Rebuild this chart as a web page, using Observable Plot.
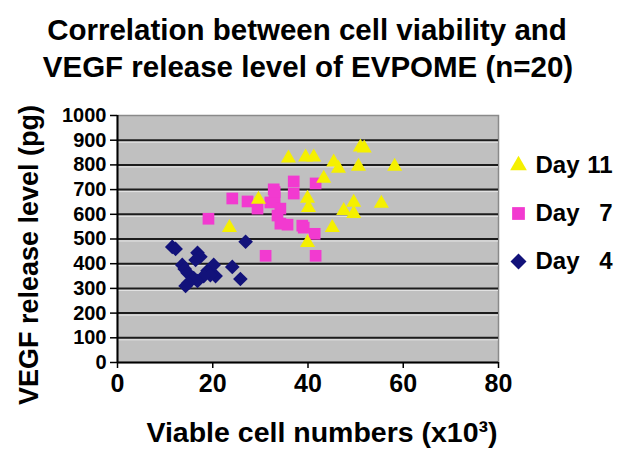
<!DOCTYPE html>
<html>
<head>
<meta charset="utf-8">
<script src="https://cdn.jsdelivr.net/npm/d3@7"></script>
<script src="https://cdn.jsdelivr.net/npm/@observablehq/plot@0.6"></script>
<style>
  html, body { margin: 0; padding: 0; background: #fff; }
  svg { display: block; }
</style>
</head>
<body>
<div id="chart"></div>
<script>
const titleLines = ["Correlation between cell viability and", "VEGF release level of EVPOME (n=20)"];
const xLabel = "Viable cell numbers (x10³)";
const yLabel = "VEGF release level (pg)";
const xTicks = [0, 20, 40, 60, 80];
const yTicks = [0, 100, 200, 300, 400, 500, 600, 700, 800, 900, 1000];

// Day 11 (yellow triangles)
const day11X = [23.5, 29.6, 35.9, 39.5, 41.2, 39.9, 40.1, 39.9, 43.3, 45.1, 45.4, 46.4, 47.5, 49.6, 49.6, 50.6, 51.0, 51.8, 55.4, 58.2];
const day11Y = [546, 660, 827, 831, 831, 664, 627, 485, 745, 546, 811, 786, 615, 648, 603, 794, 872, 868, 644, 794];
// Day 7 (magenta squares)
const day7X = [24.1, 27.3, 29.4, 19.1, 31.1, 32.8, 33.0, 37.0, 37.0, 34.2, 33.6, 34.2, 35.7, 38.8, 41.6, 41.4, 41.6, 39.1, 32.1, 33.0];
const day7Y = [664, 652, 623, 582, 432, 701, 668, 733, 684, 623, 595, 562, 558, 554, 725, 521, 432, 546, 648, 690];
// Day 4 (navy diamonds)
const day4X = [11.5, 12.2, 26.9, 16.8, 17.4, 16.4, 13.6, 14.1, 14.7, 20.2, 24.1, 25.8, 20.6, 18.9, 19.5, 18.1, 16.8, 16.0, 14.9, 14.3];
const day4Y = [468, 460, 489, 444, 428, 415, 395, 379, 363, 395, 387, 338, 350, 371, 354, 350, 330, 342, 322, 310];

const seriesNames = ["Day 11", "Day 7", "Day 4"];
const seriesDay = ["11", "7", "4"];
const seriesColors = ["#f5f000", "#f23ad0", "#12127a"];
const seriesSymbols = ["triangle", "square", "diamond2"];
const seriesR = [5.6, 6.6, 6.6];

const toRows = (xs, ys, s) => xs.map((x, i) => ({x, y: ys[i], s}));
const rows = [
  ...toRows(day4X, day4Y, "Day 4"),
  ...toRows(day7X, day7Y, "Day 7"),
  ...toRows(day11X, day11Y, "Day 11")
];

const font = "'Liberation Sans', Arial, sans-serif";
const W = 628, H = 459;

const pointMarks = seriesNames.map((name, i) =>
  Plot.dot(rows.filter(d => d.s === name), {
    x: "x", y: "y", symbol: () => seriesSymbols[i], r: seriesR[i],
    fill: seriesColors[i], stroke: "none"
  })
).reverse();

const legendMarks = seriesNames.flatMap((name, i) => [
  Plot.dot([name], {frameAnchor: "top-right", dx: 20, dy: 50 + i * 48,
    symbol: () => seriesSymbols[i], r: seriesR[i] + 0.6, fill: seriesColors[i], stroke: "none"}),
  Plot.text(["Day"], {frameAnchor: "top-right", dx: 37, dy: 50 + i * 48, textAnchor: "start", lineAnchor: "middle",
    fontSize: 24, fontWeight: "bold", fill: "#000"}),
  Plot.text([seriesDay[i]], {frameAnchor: "top-right", dx: 114, dy: 50 + i * 48, textAnchor: "end", lineAnchor: "middle",
    fontSize: 24, fontWeight: "bold", fill: "#000"})
]);

const chart = Plot.plot({
  width: W, height: H,
  marginTop: 115, marginRight: 130, marginBottom: 97, marginLeft: 117,
  style: {fontFamily: font, background: "#fff", overflow: "visible"},
  x: {domain: [0, 80], ticks: xTicks},
  y: {domain: [0, 1000], ticks: yTicks},
  marks: [
    Plot.frame({fill: "#c0c0c0", stroke: "#8a8a8a", strokeWidth: 1.5}),
    Plot.ruleY(yTicks.filter(v => v > 0 && v < 1000), {stroke: "#1c1c1c", strokeWidth: 2}),
    Plot.ruleY(yTicks.filter(v => v > 0 && v < 1000), {stroke: "#e6e6e6", strokeWidth: 1, dy: 2}),
    Plot.axisY({ticks: yTicks, tickFormat: d3.format("d"), tickSize: 7, tickPadding: 4, fontSize: 20, fontWeight: "bold",
      label: null, stroke: "#000", strokeWidth: 1.5, fill: "#000"}),
    Plot.axisX({ticks: xTicks, tickFormat: d3.format("d"), tickSize: 6, tickPadding: 6, fontSize: 25, fontWeight: "bold",
      label: null, stroke: "#000", strokeWidth: 1.5, fill: "#000"}),
    Plot.ruleX([0], {stroke: "#000", strokeWidth: 2}),
    Plot.ruleY([0], {stroke: "#000", strokeWidth: 2}),
    ...pointMarks,
    Plot.text([titleLines[0]], {frameAnchor: "top", dy: -85, dx: -1, lineAnchor: "middle", fontSize: 29.5, fontWeight: "bold", fill: "#000"}),
    Plot.text([titleLines[1]], {frameAnchor: "top", dy: -48, dx: 0, lineAnchor: "middle", fontSize: 29.5, fontWeight: "bold", fill: "#000"}),
    Plot.text([yLabel], {frameAnchor: "left", dx: -88, dy: 16, rotate: -90, textAnchor: "middle", lineAnchor: "middle", fontSize: 27, fontWeight: "bold", fill: "#000"}),
    Plot.text([xLabel], {frameAnchor: "bottom", dy: 70, dx: 14, textAnchor: "middle", lineAnchor: "middle", fontSize: 28.5, fontWeight: "bold", fill: "#000"}),
    ...legendMarks
  ]
});
document.getElementById("chart").appendChild(chart);
</script>
</body>
</html>
